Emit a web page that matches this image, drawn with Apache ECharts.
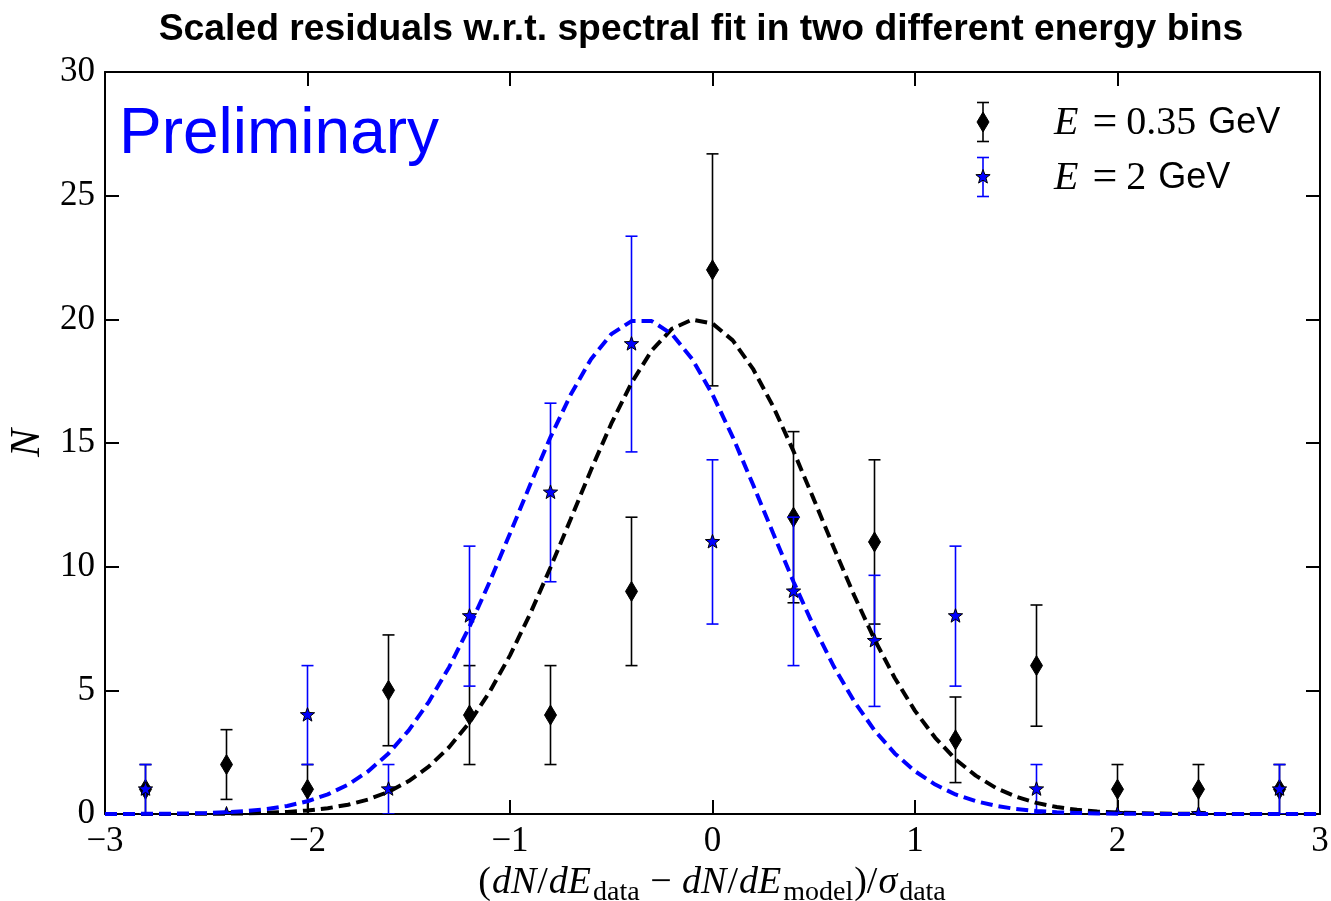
<!DOCTYPE html>
<html>
<head>
<meta charset="utf-8">
<script src="https://cdn.jsdelivr.net/npm/echarts@6/dist/echarts.min.js"></script>
<style>
html,body{margin:0;padding:0;background:#fff;}
#chart{width:1331px;height:901px;}
</style>
</head>
<body>
<div id="chart"></div>
<script>
// ---- data ----
const binX = [-2.8,-2.4,-2.0,-1.6,-1.2,-0.8,-0.4,0,0.4,0.8,1.2,1.6,2.0,2.4,2.8];
const countLow = [1,2,1,5,4,4,9,22,12,11,3,6,1,1,1];          // E = 0.35 GeV
const errLow   = [1,1.41,1,2.24,2,2,3,4.69,3.46,3.32,1.73,2.45,1,1,1];
const countHigh = [1,0,4,1,8,13,19,11,9,7,8,1,0,0,1];        // E = 2 GeV
const errHigh   = [1,0,2,1,2.83,3.61,4.36,3.32,3,2.65,2.83,1,0,0,1];

const fitX = [-3.0,-2.9,-2.8,-2.7,-2.6,-2.5,-2.4,-2.3,-2.2,-2.1,-2.0,-1.9,-1.8,-1.7,-1.6,-1.5,-1.4,-1.3,-1.2,-1.1,-1.0,-0.9,-0.8,-0.7,-0.6,-0.5,-0.4,-0.3,-0.2,-0.1,0.0,0.1,0.2,0.3,0.4,0.5,0.6,0.7,0.8,0.9,1.0,1.1,1.2,1.3,1.4,1.5,1.6,1.7,1.8,1.9,2.0,2.1,2.2,2.3,2.4,2.5,2.6,2.7,2.8,2.9,3.0];
const fitLow = [0,0.0005,0.001,0.002,0.004,0.008,0.014,0.027,0.048,0.083,0.141,0.233,0.376,0.588,0.897,1.332,1.925,2.707,3.706,4.942,6.414,8.104,9.966,11.93,13.91,15.78,17.43,18.74,19.62,19.99,19.83,19.15,18.00,16.47,14.67,12.73,10.75,8.83,7.06,5.50,4.17,3.08,2.21,1.55,1.05,0.70,0.45,0.28,0.17,0.10,0.06,0.034,0.019,0.010,0.005,0.003,0.001,0.001,0,0,0];
const fitHigh = [0.002,0.003,0.006,0.012,0.022,0.040,0.071,0.121,0.201,0.326,0.516,0.793,1.186,1.728,2.449,3.382,4.546,5.948,7.577,9.393,11.34,13.32,15.24,16.96,18.39,19.40,19.93,19.93,19.40,18.39,16.96,15.24,13.32,11.34,9.39,7.58,5.95,4.55,3.38,2.45,1.73,1.19,0.79,0.52,0.33,0.20,0.12,0.071,0.040,0.022,0.012,0.006,0.003,0.002,0.001,0,0,0,0,0,0];

const xTicks = [-3,-2,-1,0,1,2,3];
const yTicks = [0,5,10,15,20,25,30];

const titleText = 'Scaled residuals w.r.t. spectral fit in two different energy bins';
const watermark = 'Preliminary';
const legendLow = ['E', '=', '0.35', 'GeV'];
const legendHigh = ['E', '=', '2', 'GeV'];

// ---- styles ----
const BLUE = '#0000ff';
const SERIF = '"Liberation Serif", "DejaVu Serif", serif';
const SANS = '"Liberation Sans", Arial, sans-serif';

function diamondPts(cx, cy, w, h) {
  return [[cx, cy - h/2], [cx + w/2, cy], [cx, cy + h/2], [cx - w/2, cy]];
}
function starPts(cx, cy, R) {
  const r = R * 0.42, pts = [];
  for (let i = 0; i < 10; i++) {
    const a = -Math.PI/2 + i * Math.PI/5;
    const rr = i % 2 === 0 ? R : r;
    pts.push([cx + rr*Math.cos(a), cy + rr*Math.sin(a)]);
  }
  return pts;
}
function markerShape(kind, cx, cy) {
  if (kind === 'diamond') {
    return {type:'polygon', shape:{points: diamondPts(cx, cy, 12, 20)}, style:{fill:'#000', stroke:'#000', lineWidth:1}};
  }
  return {type:'polygon', shape:{points: starPts(cx, cy, 7.5)}, style:{fill:BLUE, stroke:'#000', lineWidth:1}};
}
function errRender(color, kind) {
  return function(params, api) {
    const x = api.value(0), y = api.value(1), e = api.value(2);
    const t = api.coord([x, y + e]), b = api.coord([x, y - e]), c = api.coord([x, y]);
    const cap = 6;
    const ls = {stroke: color, lineWidth: 1.6};
    return {type:'group', children:[
      {type:'line', shape:{x1:t[0], y1:t[1], x2:b[0], y2:b[1]}, style:ls},
      {type:'line', shape:{x1:t[0]-cap, y1:t[1], x2:t[0]+cap, y2:t[1]}, style:ls},
      {type:'line', shape:{x1:b[0]-cap, y1:b[1], x2:b[0]+cap, y2:b[1]}, style:ls},
      markerShape(kind, c[0], c[1])
    ]};
  };
}

const lowData = binX.map((x, i) => [x, countLow[i], errLow[i]]);
const highData = binX.map((x, i) => [x, countHigh[i], errHigh[i]]);
const fitLowData = fitX.map((x, i) => [x, fitLow[i]]);
const fitHighData = fitX.map((x, i) => [x, fitHigh[i]]);

const fmtTick = v => (v < 0 ? '\u2212' + Math.abs(v) : String(v));

const tickStyle = {show:true, inside:true, length:14, lineStyle:{color:'#000', width:2}};
const lineStyle = {show:true, onZero:false, lineStyle:{color:'#000', width:2}};
const labelStyle = {fontFamily: SERIF, fontSize: 35, color:'#000'};

function legendItem(y, color, kind, parts) {
  const x = 983, half = 19.5, cap = 6;
  const ls = {stroke: color, lineWidth: 1.6};
  return [
    {type:'line', shape:{x1:x, y1:y-half, x2:x, y2:y+half}, style:ls, z:10},
    {type:'line', shape:{x1:x-cap, y1:y-half, x2:x+cap, y2:y-half}, style:ls, z:10},
    {type:'line', shape:{x1:x-cap, y1:y+half, x2:x+cap, y2:y+half}, style:ls, z:10},
    Object.assign(markerShape(kind, x, y), {z:11}),
    {type:'text', x:1054, y:y + 1, z:10, style:{
      text: '{i|' + parts[0] + '}{e|' + parts[1] + '}{r|' + parts[2] + '}{s|' + parts[3] + '}',
      verticalAlign:'middle', align:'left',
      rich:{
        i:{fontFamily:SERIF, fontStyle:'italic', fontSize:40, fill:'#000', padding:[0,14,0,0]},
        e:{fontFamily:SERIF, fontSize:44, fill:'#000', padding:[0,9,0,0]},
        r:{fontFamily:SERIF, fontSize:40, fill:'#000', padding:[0,12,0,0]},
        s:{fontFamily:SANS, fontSize:36, fill:'#000'}
      }
    }}
  ];
}

const chart = echarts.init(document.getElementById('chart'), null, {renderer:'canvas'});
chart.setOption({
  animation:false,
  backgroundColor:'#fff',
  title:{
    text: titleText, left: 696, top: 6, textAlign:'center',
    textStyle:{fontFamily:SANS, fontWeight:'bold', fontSize:37.3, color:'#000'}
  },
  grid:{left:105, right:11, top:72, bottom:87, containLabel:false, outerBoundsMode:'none'},
  xAxis:[
    {type:'value', position:'bottom', min:-3, max:3, interval:1,
     axisLine:lineStyle, axisTick:tickStyle, splitLine:{show:false},
     axisLabel:Object.assign({margin:10, formatter: fmtTick}, labelStyle),
     name:'{p|(}{i|dN}{p|/}{i|dE}{s|data}{p| \u2212 }{i|dN}{p|/}{i|dE}{s|model}{p|)/}{i|\u03c3}{s|data}',
     nameLocation:'middle', nameGap:49,
     nameTextStyle:{rich:{
       p:{fontFamily:SERIF, fontSize:38, color:'#000', lineHeight:34, verticalAlign:'top'},
       i:{fontFamily:SERIF, fontStyle:'italic', fontSize:38, color:'#000', lineHeight:34, verticalAlign:'top', padding:[0,1,0,1]},
       s:{fontFamily:SERIF, fontSize:28, color:'#000', lineHeight:27, verticalAlign:'top', padding:[15,1,0,1]}
     }}
    },
    {type:'value', position:'top', min:-3, max:3, interval:1,
     axisLine:lineStyle, axisTick:tickStyle, splitLine:{show:false}, axisLabel:{show:false}}
  ],
  yAxis:[
    {type:'value', position:'left', min:0, max:30, interval:5,
     axisLine:lineStyle, axisTick:tickStyle, splitLine:{show:false},
     axisLabel:Object.assign({margin:10}, labelStyle),
     name:'N', nameLocation:'middle', nameGap:56, nameRotate:90,
     nameTextStyle:{fontFamily:SERIF, fontStyle:'italic', fontSize:42, color:'#000'}
    },
    {type:'value', position:'right', min:0, max:30, interval:5,
     axisLine:lineStyle, axisTick:tickStyle, splitLine:{show:false}, axisLabel:{show:false}}
  ],
  series:[
    {type:'custom', name:'E = 0.35 GeV', data: lowData, renderItem: errRender('#000', 'diamond'),
     clip:true, z:3, encode:{x:0, y:1}},
    {type:'custom', name:'E = 2 GeV', data: highData, renderItem: errRender(BLUE, 'star'),
     clip:true, z:4, encode:{x:0, y:1}},
    {type:'line', data: fitLowData, showSymbol:false, symbol:'none', clip:false, z:5,
     lineStyle:{color:'#000', width:4, type:[12,6]}},
    {type:'line', data: fitHighData, showSymbol:false, symbol:'none', clip:false, z:5,
     lineStyle:{color:BLUE, width:4, type:[12,6]}}
  ],
  graphic:[
    {type:'text', left:119, top:103, z:10, style:{text: watermark, fontFamily:SANS, fontSize:64, fill:BLUE}}
  ].concat(legendItem(122, '#000', 'diamond', legendLow), legendItem(177, BLUE, 'star', legendHigh))
});
</script>
</body>
</html>
